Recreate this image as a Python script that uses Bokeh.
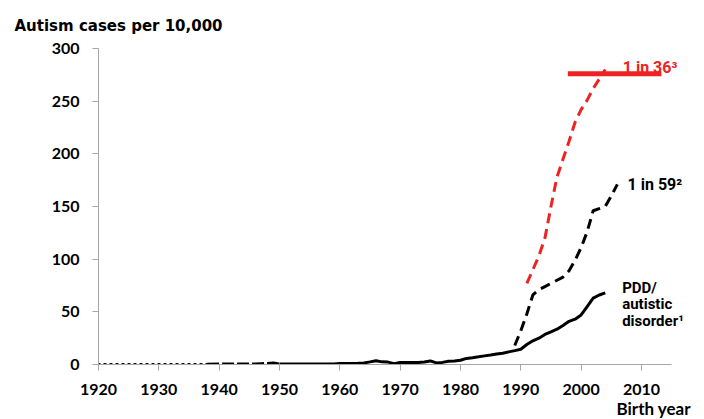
from bokeh.plotting import figure
from bokeh.models import Range1d, Label, FixedTicker, Title
from bokeh.embed import file_html
from bokeh.resources import INLINE

# ---- data ----
dotted_years = [1920, 1925, 1930, 1935, 1938]
dotted_vals = [0, 0, 0, 0, 0]

early_years = [1938, 1940, 1942, 1944, 1946, 1947, 1948, 1949, 1950]
early_vals = [0.3, 0.5, 0.5, 0.5, 0.5, 0.8, 1.0, 1.5, 0.5]

pdd_years = [1950, 1955, 1959, 1960, 1961, 1962, 1963, 1964, 1965, 1966,
             1967, 1968, 1969, 1970, 1971, 1972, 1973, 1974, 1975, 1976,
             1977, 1978, 1979, 1980, 1981, 1982, 1983, 1984, 1985, 1986,
             1987, 1988, 1989, 1990, 1991, 1992, 1993, 1994, 1995, 1996,
             1997, 1998, 1999, 2000, 2001, 2002, 2003, 2004]
pdd_vals = [0.5, 0.5, 0.5, 1.0, 1.0, 1.0, 1.2, 1.5, 2.5, 3.6,
            2.5, 2.3, 0.8, 2.0, 2.0, 2.0, 2.0, 2.3, 3.4, 1.5,
            2.0, 3.0, 3.3, 4.0, 5.8, 6.5, 7.3, 8.2, 9.0, 10.0,
            10.7, 12.0, 13.2, 14.5, 19.0, 22.5, 25.0, 28.5, 31.0, 33.5,
            37.0, 41.0, 43.0, 47.0, 55.0, 63.0, 66.0, 68.0]

cdc59_years = [1989, 1990, 1991, 1992, 1993, 1994, 1995, 1996, 1997, 1998,
               1999, 2000, 2001, 2002, 2003, 2004, 2005, 2006]
cdc59_vals = [18, 32, 48, 66, 71, 74, 77, 80, 83, 89,
              99, 111, 126, 146, 148, 150, 160, 171]

cdc36_years = [1991, 1992, 1993, 1994, 1995, 1996, 1997, 1998, 1999, 2000,
               2001, 2002, 2003, 2004]
cdc36_vals = [77, 90, 103, 120, 150, 178, 195, 212, 230, 242,
              251, 262, 271, 280]

ref36_years = [1997.8, 2013.3]
ref36_vals = [276, 276]

x_ticks = [1920, 1930, 1940, 1950, 1960, 1970, 1980, 1990, 2000, 2010]
y_ticks = [0, 50, 100, 150, 200, 250, 300]

RED = "#ee2222"
TICK_FONT = "Lato"
ANN_FONT = "Roboto"

p = figure(width=704, height=419, output_backend="svg", toolbar_location=None,
           x_range=Range1d(1920, 2020.45), y_range=Range1d(0, 300),
           min_border_left=98, min_border_right=0, min_border_top=47,
           min_border_bottom=55)
p.outline_line_color = None
p.xgrid.visible = False
p.ygrid.visible = False
p.background_fill_color = "white"
p.border_fill_color = "white"

p.title.text = "Autism cases per 10,000"
p.title.align = "left"
p.title.offset = -84
p.title.standoff = 28
p.title.text_font = "DejaVu Sans"
p.title.text_font_style = "bold"
p.title.text_font_size = "15px"
p.title.text_color = "black"

for ax in (p.xaxis[0], p.yaxis[0]):
    ax.axis_line_color = "#a6a6a6"
    ax.axis_line_width = 1
    ax.major_tick_line_color = "#a6a6a6"
    ax.major_tick_in = 0
    ax.major_tick_out = 6
    ax.minor_tick_line_color = None
    ax.major_label_text_font = TICK_FONT
    ax.major_label_text_font_style = "bold"
    ax.major_label_text_font_size = "16px"
    ax.major_label_text_color = "black"

p.xaxis[0].ticker = FixedTicker(ticks=x_ticks)
p.yaxis[0].ticker = FixedTicker(ticks=y_ticks)
p.xaxis[0].bounds = (1920, 2015)
p.yaxis[0].bounds = (0, 300)
p.xaxis[0].major_label_standoff = 13
p.yaxis[0].major_label_standoff = 13

p.add_layout(Title(text="Birth year", align="left", offset=518, standoff=-3,
                   text_font=TICK_FONT, text_font_style="bold",
                   text_font_size="17px", text_color="black"), "below")

p.line(dotted_years, dotted_vals, line_color="black", line_width=3,
       line_dash="1 5", line_cap="round")
p.line(early_years, early_vals, line_color="black", line_width=3, line_dash="12 3")
p.line(pdd_years, pdd_vals, line_color="black", line_width=3)
p.line(cdc59_years, cdc59_vals, line_color="black", line_width=3, line_dash="10 6")
p.line(cdc36_years, cdc36_vals, line_color=RED, line_width=3, line_dash="10 6")
p.line(ref36_years, ref36_vals, line_color=RED, line_width=5)

def ann(text, x, y, color="black", size="15px"):
    p.add_layout(Label(x=x, y=y, text=text, text_color=color, text_font=ANN_FONT,
                       text_font_style="bold", text_font_size=size,
                       text_baseline="alphabetic"))

ann("1 in 36³", 2006.9, 282, RED, "16px")
ann("1 in 59²", 2007.7, 170.5, "black", "16px")
ann("PDD/", 2006.8, 73)
ann("autistic", 2006.8, 57.5)
ann("disorder¹", 2006.8, 41.5)

open("out.html", "w").write(file_html(p, INLINE))
